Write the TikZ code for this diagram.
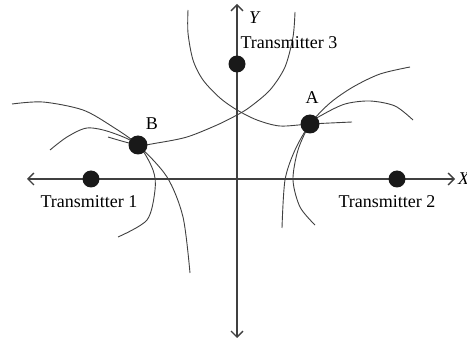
\documentclass[tikz,border=0pt]{standalone}
\usepackage{fontspec}
\setmainfont{Liberation Serif}
\usetikzlibrary{arrows.meta,backgrounds}

\begin{document}
\begin{tikzpicture}[x=1pt, y=-1pt, font=\fontsize{18}{20}\selectfont,
  axis/.style={line width=1.3pt,draw=black!75,{Straight Barb[length=6pt,width=12pt]}-{Straight Barb[length=6pt,width=12pt]}},
  hyp/.style={line width=0.9pt,draw=black!75},
  tx/.style={circle,fill=black!90,inner sep=0pt,minimum size=17pt},
  fixpt/.style={circle,fill=black!90,inner sep=0pt,minimum size=19pt},
  lbl/.style={inner sep=0pt}]
\useasboundingbox (0,0) rectangle (467,345);
% axes
\coordinate (xl) at (27,179);
\coordinate (xr) at (455,179);
\coordinate (yt) at (237,4);
\coordinate (yb) at (237,338);
\draw[axis] (xl) -- (xr);
\draw[axis] (yb) -- (yt);
\node[lbl,anchor=west] (xlab) at (458,179) {\textit{X}};
\node[lbl] (ylab) at (255,18) {\textit{Y}};
% points
\node[tx] (t1) at (91,179) {};
\node[tx] (t2) at (397,179) {};
\node[tx] (t3) at (237,64) {};
\node[fixpt] (a) at (310,124) {};
\node[fixpt] (b) at (138,145) {};
\node[lbl] (t1lab) at (89,202) {Transmitter 1};
\node[lbl] (t2lab) at (387,202) {Transmitter 2};
\node[lbl] (t3lab) at (289,43) {Transmitter 3};
\node[lbl] (alab) at (312,98) {A};
\node[lbl] (blab) at (152,124) {B};
% hyperbolas
\begin{scope}[on background layer]
\draw[hyp] plot[smooth] coordinates {(188,10) (188,33) (193,60) (203,80) (220,98) (237,110) (257,120) (280,126) (a.center) (352,122)};
\draw[hyp] plot[smooth] coordinates {(295,12) (293,37) (285,67) (270,90) (250,107) (237,115) (217,125) (187,137) (157,143) (b.center) (108,137)};
\draw[hyp] plot[smooth] coordinates {(12,104) (43,102) (83,110) (113,127) (b.center) (167,177) (183,217) (190,273)};
\draw[hyp] plot[smooth] coordinates {(50,150) (67,137) (87,128) (110,132) (b.center) (153,170) (155,190) (147,220) (118,237)};
\draw[hyp] plot[smooth] coordinates {(410,67) (380,74) (353,87) (330,103) (a.center) (295,150) (285,180) (282,228)};
\draw[hyp] plot[smooth] coordinates {(413,120) (395,106) (370,101) (345,104) (322,115) (a.center) (298,150) (293,180) (300,207) (315,225)};
\end{scope}
\end{tikzpicture}
\end{document}
